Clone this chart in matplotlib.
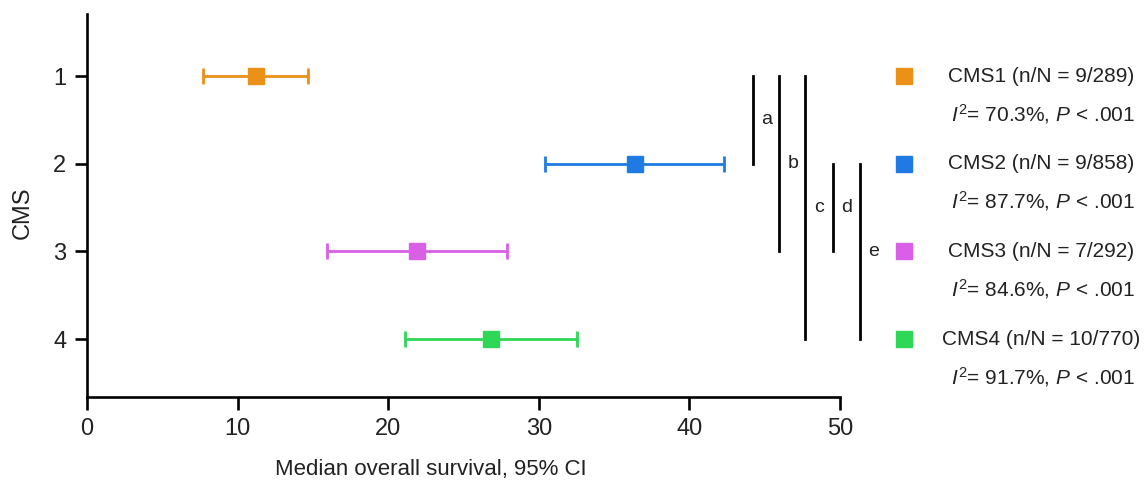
import matplotlib
matplotlib.use("Agg")
import matplotlib.pyplot as plt

plt.rcParams['font.family'] = ['Liberation Sans', 'DejaVu Sans']
plt.rcParams['mathtext.fontset'] = 'custom'
plt.rcParams['mathtext.rm'] = 'Liberation Sans'
plt.rcParams['mathtext.it'] = 'Liberation Sans:italic'

# #############################################################################
# Data
cms = [1, 2, 3, 4]
median_os = [11.2, 36.4, 21.9, 26.8]
ci_low = [7.7, 30.4, 15.9, 21.1]
ci_high = [14.7, 42.3, 27.9, 32.5]
colors = ['#EC9118', '#1F7BE3', '#D95FE6', '#2ED756']

legend_names = ['CMS1 (n/N = 9/289)', 'CMS2 (n/N = 9/858)',
                'CMS3 (n/N = 7/292)', 'CMS4 (n/N = 10/770)']
i2 = ['70.3%', '87.7%', '84.6%', '91.7%']

# significance brackets: label, from CMS, to CMS
br_labels = ['a', 'b', 'c', 'd', 'e']
br_from = [1, 1, 1, 2, 2]
br_to = [2, 3, 4, 3, 4]
br_x = [44.2, 45.95, 47.7, 49.5, 51.3]

# #############################################################################
# Plot
fig = plt.figure(figsize=(11.48, 4.87), dpi=100)
ax = fig.add_axes([0.0758, 0.185, 0.656, 0.786])

for y, m, lo, hi, col in zip(cms, median_os, ci_low, ci_high, colors):
    ax.errorbar(m, y, xerr=[[m - lo], [hi - m]], fmt='s', color=col,
                ecolor=col, markersize=11, elinewidth=2.0, capsize=6,
                capthick=2.0)

for lab, y0, y1, x in zip(br_labels, br_from, br_to, br_x):
    ax.plot([x, x], [y0, y1], color='black', lw=2.0, clip_on=False)
    ax.text(x + 0.55, (y0 + y1) / 2, lab, fontsize=14, ha='left',
            va='center', clip_on=False, color='#222222')

# legend drawn next to the rows
for y, name, val, col in zip(cms, legend_names, i2, colors):
    ax.plot(54.25, y, 's', color=col, markersize=11, clip_on=False)
    ax.text(63.35, y, name, fontsize=15, ha='center', va='center',
            color='#222222')
    ax.text(63.5, y + 0.43, r'$\mathit{I}^{2}$= ' + val + r', $\mathit{P}$ < .001',
            fontsize=15, ha='center', va='center', color='#222222')

ax.set_xlim(0, 50)
ax.set_ylim(4.66, 0.293)
ax.set_xticks([0, 10, 20, 30, 40, 50])
ax.set_yticks(cms)
ax.spines['top'].set_visible(False)
ax.spines['right'].set_visible(False)
ax.spines['left'].set_linewidth(1.9)
ax.spines['bottom'].set_linewidth(1.9)
ax.tick_params(axis='both', width=1.9, length=9, labelsize=17, pad=6,
               colors='black', labelcolor='#222222')

ax.set_xlabel('Median overall survival, 95% CI', fontsize=16, color='#222222',
              va='center')
ax.xaxis.set_label_coords(0.456, -0.19)
ax.set_ylabel('CMS', fontsize=17, color='#222222', va='center')
ax.yaxis.set_label_coords(-0.086, 0.48)

fig.savefig('out.png', dpi=100)
